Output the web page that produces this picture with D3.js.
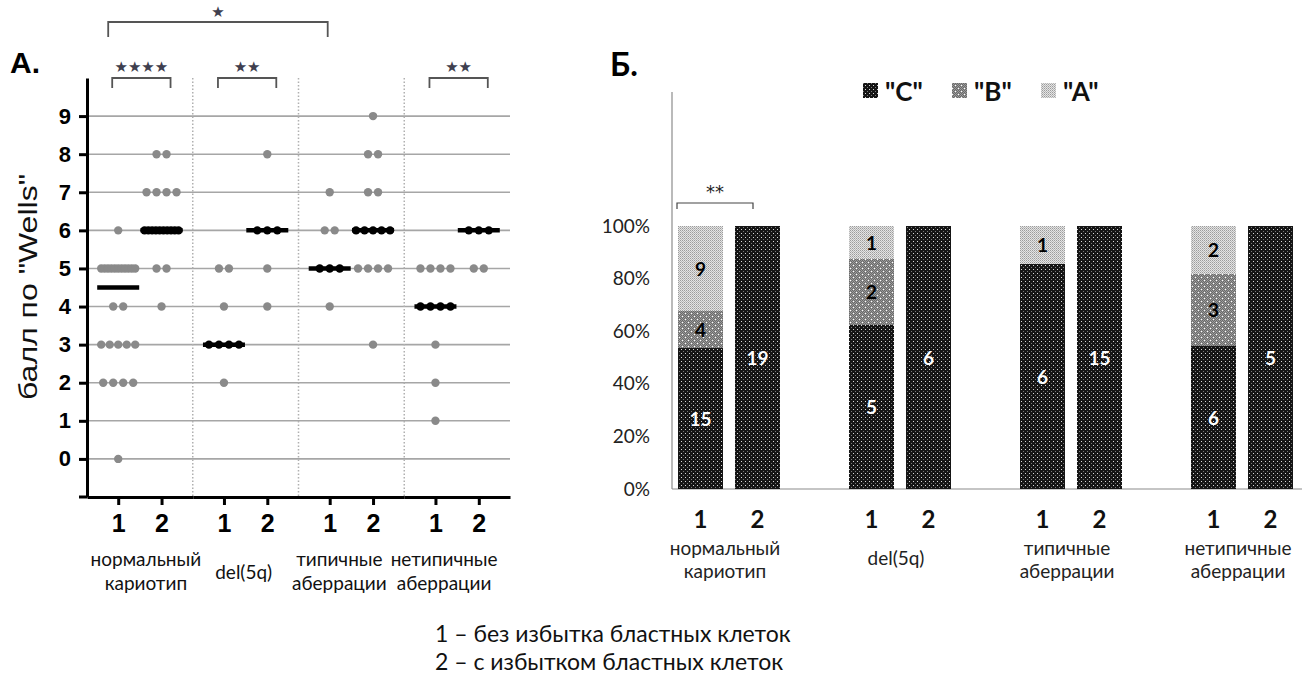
<!DOCTYPE html>
<html>
<head>
<meta charset="utf-8">
<script src="https://cdn.jsdelivr.net/npm/d3@7"></script>
<style>
body { margin: 0; background: #fff; }
</style>
</head>
<body>
<svg id="chart" width="1304" height="679"></svg>
<script>
// ---- data ----
const groups = ["нормальный кариотип", "del(5q)", "типичные аберрации", "нетипичные аберрации"];
const groupLines = [["нормальный", "кариотип"], ["del(5q)"], ["типичные", "аберрации"], ["нетипичные", "аберрации"]];
const subgroups = ["1", "2"];

// panel A: Wells score for every patient, one list per column
const wellsNormal1 = [6, 5, 5, 5, 5, 5, 5, 5, 5, 5, 5, 5, 4, 4, 3, 3, 3, 3, 3, 2, 2, 2, 2, 0];
const wellsNormal2 = [8, 8, 7, 7, 7, 7, 6, 6, 6, 6, 6, 6, 6, 6, 6, 6, 5, 5, 4];
const wellsDel1 = [5, 5, 4, 3, 3, 3, 3, 2];
const wellsDel2 = [8, 6, 6, 6, 5, 4];
const wellsTyp1 = [7, 6, 6, 5, 5, 5, 4];
const wellsTyp2 = [9, 8, 8, 7, 7, 6, 6, 6, 6, 6, 5, 5, 5, 5, 3];
const wellsAtyp1 = [5, 5, 5, 5, 4, 4, 4, 4, 3, 2, 1];
const wellsAtyp2 = [6, 6, 6, 5, 5];
const wellsColumns = [wellsNormal1, wellsNormal2, wellsDel1, wellsDel2, wellsTyp1, wellsTyp2, wellsAtyp1, wellsAtyp2];
const yTicksA = [0, 1, 2, 3, 4, 5, 6, 7, 8, 9];

// significance marks in panel A: [first column, last column, label]
const sigTop = [0, 4, "★"];
const sigPairs = [[0, 1, "★★★★"], [2, 3, "★★"], [6, 7, "★★"]];

// panel B: counts per risk grade, bars ordered group x subgroup
const gradeKeys = ["C", "B", "A"];
const gradeC = [15, 19, 5, 6, 6, 15, 6, 5];
const gradeB = [4, 0, 2, 0, 0, 0, 3, 0];
const gradeA = [9, 0, 1, 0, 1, 0, 2, 0];
const percentTicks = [0, 0.2, 0.4, 0.6, 0.8, 1];

const footnotes = ["1 – без избытка бластных клеток", "2 – с избытком бластных клеток"];

// ---- setup ----
const svg = d3.select("#chart");
const fontA = "'Liberation Sans', Arial, sans-serif";
const fontB = "Lato, 'Open Sans', sans-serif";

// patterns for panel B
const defs = svg.append("defs");
let pc = defs.append("pattern").attr("id", "patC").attr("width", 4).attr("height", 4).attr("patternUnits", "userSpaceOnUse");
pc.append("rect").attr("width", 4).attr("height", 4).attr("fill", "#151515");
pc.append("rect").attr("x", 1).attr("y", 1).attr("width", 1).attr("height", 1).attr("fill", "#d8d8d8");
pc.append("rect").attr("x", 3).attr("y", 3).attr("width", 1).attr("height", 1).attr("fill", "#777");

let pb = defs.append("pattern").attr("id", "patB").attr("width", 6).attr("height", 6).attr("patternUnits", "userSpaceOnUse");
pb.append("rect").attr("width", 6).attr("height", 6).attr("fill", "#9a9a9a");
for (let i = 0; i < 6; i++) {
    for (let j = 0; j < 6; j++) {
        if ((i + j) % 2 == 0)
            pb.append("rect").attr("x", i).attr("y", j).attr("width", 1).attr("height", 1).attr("fill", "#6a6a6a");
    }
}
pb.append("rect").attr("x", 1).attr("y", 1).attr("width", 1).attr("height", 1).attr("fill", "#fff");
pb.append("rect").attr("x", 4).attr("y", 4).attr("width", 1).attr("height", 1).attr("fill", "#fff");

let pa = defs.append("pattern").attr("id", "patA").attr("width", 2).attr("height", 2).attr("patternUnits", "userSpaceOnUse");
pa.append("rect").attr("width", 2).attr("height", 2).attr("fill", "#e4e4e4");
pa.append("rect").attr("x", 0).attr("y", 0).attr("width", 1).attr("height", 1).attr("fill", "#9c9c9c");
pa.append("rect").attr("x", 1).attr("y", 1).attr("width", 1).attr("height", 1).attr("fill", "#b8b8b8");

const fills = { C: "url(#patC)", B: "url(#patB)", A: "url(#patA)" };

// ================= panel A =================
const A = { left: 87, right: 510, top: 78, bottom: 497 };
const yA = d3.scaleLinear().domain([-1, 10]).range([A.bottom, A.top]);
const xA0 = d3.scaleBand().domain(groups).range([A.left, A.right]);
const xA1 = d3.scalePoint().domain(subgroups).range([0, xA0.bandwidth()]).padding(0.72);
const colX = (i) => xA0(groups[Math.floor(i / 2)]) + xA1(subgroups[i % 2]);

const gA = svg.append("g");

// horizontal grid
gA.selectAll(".gridA")
    .data(yTicksA)
    .enter()
    .append("line")
    .attr("x1", A.left).attr("x2", A.right)
    .attr("y1", d => yA(d)).attr("y2", d => yA(d))
    .style("stroke", "#a6a6a6")
    .style("stroke-width", 1.6);

// dotted group separators
gA.selectAll(".sepA")
    .data(groups.slice(1))
    .enter()
    .append("line")
    .attr("x1", d => xA0(d)).attr("x2", d => xA0(d))
    .attr("y1", A.top).attr("y2", A.bottom)
    .style("stroke", "#b0b0b0")
    .style("stroke-width", 1.5)
    .style("stroke-dasharray", "1.5,2");

// dots and medians
wellsColumns.forEach((vals, i) => {
    let cx = colX(i);
    let med = d3.median(vals);
    let rows = d3.group(vals, d => d);
    rows.forEach((arr, v) => {
        let n = arr.length;
        let step = n > 1 ? Math.min(10, 34 / (n - 1)) : 0;
        gA.selectAll(null)
            .data(arr)
            .enter()
            .append("circle")
            .attr("cx", (d, k) => cx + (k - (n - 1) / 2) * step)
            .attr("cy", yA(v))
            .attr("r", 4.2)
            .style("fill", v == med ? "#000" : "#8a8a8a");
    });
    gA.append("line")
        .attr("x1", cx - 21).attr("x2", cx + 21)
        .attr("y1", yA(med)).attr("y2", yA(med))
        .style("stroke", "#000")
        .style("stroke-width", 4.5);
});

// y axis
const axA = gA.append("g")
    .attr("transform", "translate(" + A.left + ",0)")
    .call(d3.axisLeft(yA).tickValues(yTicksA).tickSize(8).tickSizeOuter(0).tickPadding(8));
axA.select(".domain").style("stroke", "#000").style("stroke-width", 3);
axA.selectAll(".tick line").style("stroke", "#000").style("stroke-width", 3);
axA.selectAll(".tick text")
    .style("font-family", fontA).style("font-weight", "bold").style("font-size", "22px").style("fill", "#000");

// x axis, one piece per group
groups.forEach((g) => {
    let ax = gA.append("g")
        .attr("transform", "translate(" + xA0(g) + "," + A.bottom + ")")
        .call(d3.axisBottom(xA1).tickSize(8).tickSizeOuter(0).tickPadding(9));
    ax.select(".domain").style("stroke", "#000").style("stroke-width", 3);
    ax.selectAll(".tick line").style("stroke", "#000").style("stroke-width", 3);
    ax.selectAll(".tick text")
        .style("font-family", fontA).style("font-weight", "bold").style("font-size", "25px").style("fill", "#000");
});
gA.append("line")
    .attr("x1", A.left - 8).attr("x2", A.left)
    .attr("y1", A.bottom).attr("y2", A.bottom)
    .style("stroke", "#000").style("stroke-width", 3);

// group labels
const labelShiftA = [6, -2, -12, -13];
groupLines.forEach((lines, i) => {
    let cx = xA0(groups[i]) + xA0.bandwidth() / 2 + labelShiftA[i];
    let y0 = lines.length == 1 ? 579 : 566;
    gA.selectAll(null)
        .data(lines)
        .enter()
        .append("text")
        .attr("x", cx)
        .attr("y", (d, k) => y0 + k * 24)
        .attr("text-anchor", "middle")
        .style("font-family", fontB).style("font-size", "19px").style("fill", "#111")
        .text(d => d);
});

// y axis title
gA.append("text")
    .attr("transform", "translate(37,287) rotate(-90)")
    .attr("text-anchor", "middle")
    .attr("textLength", 226)
    .attr("lengthAdjust", "spacingAndGlyphs")
    .style("font-family", fontA).style("font-size", "26px").style("fill", "#111")
    .text("балл по \"Wells\"");

// panel title
svg.append("text")
    .attr("x", 10).attr("y", 73)
    .style("font-family", fontA).style("font-weight", "bold").style("font-size", "30px")
    .text("А.");

// significance brackets
function bracket(x1, x2, yTop, yLeg, label, labelY) {
    gA.append("path")
        .attr("d", "M" + x1 + "," + yLeg + "V" + yTop + "H" + x2 + "V" + yLeg)
        .style("fill", "none").style("stroke", "#555").style("stroke-width", 1.8);
    gA.append("text")
        .attr("x", (x1 + x2) / 2).attr("y", labelY)
        .attr("text-anchor", "middle").attr("dominant-baseline", "central")
        .style("font-family", "'DejaVu Sans', sans-serif").style("font-size", "15px").style("fill", "#3f3f4f")
        .text(label);
}
bracket(colX(sigTop[0]) - 10, colX(sigTop[1]) - 2, 22, 37, sigTop[2], 12);
sigPairs.forEach(s => {
    bracket(colX(s[0]) - 6, colX(s[1]) + 9, 78, 88, s[2], 67);
});

// ================= panel B =================
const B = { left: 672, right: 1299, top: 226, bottom: 489, axisTop: 92 };
const yB = d3.scaleLinear().domain([0, 1]).range([B.bottom, B.top]);
const xB0 = d3.scaleBand().domain(groups).range([B.left, B.right]).paddingInner(1 / 3);
const xB1 = d3.scaleBand().domain(subgroups).range([0, xB0.bandwidth()]).paddingInner(12 / 57).paddingOuter(6 / 57);

const barRows = [];
for (let i = 0; i < gradeC.length; i++) {
    barRows.push({ group: groups[Math.floor(i / 2)], sub: subgroups[i % 2], C: gradeC[i], B: gradeB[i], A: gradeA[i] });
}
const barX = (d) => xB0(d.group) + xB1(d.sub);

const stacked = d3.stack().keys(gradeKeys).offset(d3.stackOffsetExpand)(barRows);

const gB = svg.append("g");

// axis lines
gB.append("line")
    .attr("x1", B.left).attr("x2", B.left)
    .attr("y1", B.axisTop).attr("y2", B.bottom)
    .style("stroke", "#8c8c8c").style("stroke-width", 1.2);
gB.append("line")
    .attr("x1", B.left).attr("x2", 1302)
    .attr("y1", B.bottom).attr("y2", B.bottom)
    .style("stroke", "#8c8c8c").style("stroke-width", 1.2);

// percent labels
const axB = gB.append("g")
    .attr("transform", "translate(" + B.left + ",0)")
    .call(d3.axisLeft(yB).tickValues(percentTicks).tickFormat(d3.format(".0%")).tickSize(0).tickPadding(22));
axB.select(".domain").remove();
axB.selectAll(".tick text")
    .style("font-family", fontB).style("font-size", "19px").style("fill", "#222");

// stacked bars
stacked.forEach(layer => {
    gB.selectAll(null)
        .data(layer)
        .enter()
        .append("rect")
        .attr("x", d => barX(d.data))
        .attr("width", xB1.bandwidth())
        .attr("y", d => yB(d[1]))
        .attr("height", d => yB(d[0]) - yB(d[1]))
        .attr("shape-rendering", "crispEdges")
        .style("fill", fills[layer.key]);

    gB.selectAll(null)
        .data(layer.filter(d => d.data[layer.key] > 0))
        .enter()
        .append("text")
        .attr("x", d => barX(d.data) + xB1.bandwidth() / 2)
        .attr("y", d => (yB(d[0]) + yB(d[1])) / 2)
        .attr("text-anchor", "middle").attr("dominant-baseline", "central")
        .style("font-family", fontB).style("font-weight", "bold").style("font-size", "19px")
        .style("fill", layer.key == "C" ? "#fff" : "#000")
        .text(d => d.data[layer.key]);
});

// x labels
barRows.forEach(d => {
    gB.append("text")
        .attr("x", barX(d) + xB1.bandwidth() / 2)
        .attr("y", 528)
        .attr("text-anchor", "middle")
        .style("font-family", fontB).style("font-weight", "bold").style("font-size", "24px").style("fill", "#111")
        .text(d.sub);
});
groupLines.forEach((lines, i) => {
    let cx = xB0(groups[i]) + xB0.bandwidth() / 2 - 4;
    let y0 = lines.length == 1 ? 565 : 555;
    gB.selectAll(null)
        .data(lines)
        .enter()
        .append("text")
        .attr("x", cx)
        .attr("y", (d, k) => y0 + k * 23)
        .attr("text-anchor", "middle")
        .style("font-family", fontB).style("font-size", "19px").style("fill", "#222")
        .text(d => d);
});

// legend
const legendX = [863, 952, 1041];
gradeKeys.forEach((k, i) => {
    gB.append("rect")
        .attr("x", legendX[i]).attr("y", 83)
        .attr("width", 15).attr("height", 15)
        .attr("shape-rendering", "crispEdges")
        .style("fill", fills[k]);
    gB.append("text")
        .attr("x", legendX[i] + 22).attr("y", 91)
        .attr("dominant-baseline", "central")
        .style("font-family", fontB).style("font-weight", "bold").style("font-size", "26px").style("fill", "#111")
        .text("\"" + k + "\"");
});

// significance bracket in panel B
{
    let x1 = barX(barRows[0]) - 1, x2 = barX(barRows[1]) + 18;
    gB.append("path")
        .attr("d", "M" + x1 + ",209V203H" + x2 + "V209")
        .style("fill", "none").style("stroke", "#444").style("stroke-width", 1.2);
    gB.append("text")
        .attr("x", (x1 + x2) / 2).attr("y", 198)
        .attr("text-anchor", "middle")
        .style("font-family", "'DejaVu Sans', sans-serif").style("font-size", "18px").style("fill", "#222")
        .text("**");
}

// panel title
svg.append("text")
    .attr("x", 610).attr("y", 76)
    .style("font-family", fontB).style("font-weight", "bold").style("font-size", "32px")
    .text("Б.");

// footnotes
svg.selectAll(".foot")
    .data(footnotes)
    .enter()
    .append("text")
    .attr("x", 435)
    .attr("y", (d, i) => 642 + i * 28)
    .style("font-family", fontB).style("font-size", "23px").style("fill", "#111")
    .text(d => d);
</script>
</body>
</html>
